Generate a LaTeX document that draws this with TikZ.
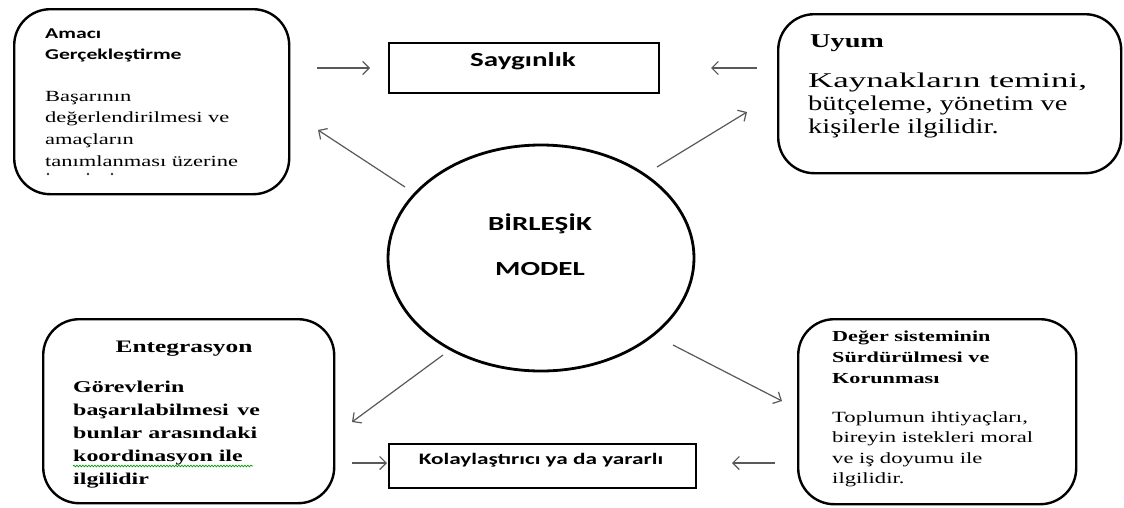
\documentclass[tikz,border=0pt]{standalone}
\usepackage{fontspec}
\setmainfont{Liberation Serif}
\newfontfamily\hsans[FakeStretch=1.45]{Carlito}
\newfontfamily\tserif[FakeStretch=1.45]{Liberation Serif}
\newfontfamily\tserifwide[FakeStretch=1.66]{Liberation Serif}
\newfontfamily\tserifnarrow[FakeStretch=1.36]{Liberation Serif}
\usetikzlibrary{arrows.meta,shapes.geometric,decorations.pathmorphing}
% stacked lines whose baseline is the first line's baseline
\newcommand\txtlines[2][l]{\begin{tabular}[t]{@{}#1@{}}#2\end{tabular}}
\begin{document}
\begin{tikzpicture}[x=1pt,y=-1pt,
  rbox/.style={draw=black,line width=2.4pt,rounded corners=36pt,inner sep=0pt,anchor=north west},
  sbox/.style={draw=black,line width=2.4pt,inner sep=0pt,anchor=north west},
  arr/.style={draw=black!65,line width=1.2pt,-{Straight Barb[length=6.5pt,width=13pt]}},
  txt/.style={inner sep=0pt,anchor=base west,text=black},
  ctxt/.style={inner sep=0pt,anchor=base,text=black}]
\useasboundingbox (0,0) rectangle (1124,507);
\fill[white] (0,0) rectangle (1124,507);

% frames
\node[rbox,minimum width=275pt,minimum height=185pt] (goal) at (13,8) {};
\node[sbox,minimum width=270pt,minimum height=50pt] (resp) at (388,42) {};
\node[rbox,minimum width=343pt,minimum height=159pt] (adapt) at (777,13) {};
\node[draw=black,line width=2.8pt,ellipse,minimum width=306pt,minimum height=226pt,inner sep=0pt] (model) at (541,258) {};
\node[rbox,minimum width=291pt,minimum height=184pt] (integ) at (42,318) {};
\node[sbox,minimum width=307pt,minimum height=44pt] (facil) at (388,443) {};
\node[rbox,minimum width=278pt,minimum height=185pt] (value) at (797,318) {};

% texts
\node[txt,font=\hsans\bfseries\fontsize{15}{21}\selectfont] (goalh) at (45,38)
  {\txtlines{Amacı\\Gerçekleştirme}};
\node[txt,font=\tserif\fontsize{15.5}{21.7}\selectfont] (goalb) at (45,101)
  {\txtlines{Başarının\\değerlendirilmesi ve\\amaçların\\tanımlanması üzerine}};
\fill[black!80] (48,174) circle (1.3) (88,174) circle (1.3) (112,174) circle (1.3);

\node[ctxt,font=\hsans\bfseries\fontsize{20}{24}\selectfont] (resph) at (523,66) {Saygınlık};

\node[txt,font=\tserif\bfseries\fontsize{19.5}{24}\selectfont] (adapth) at (810,47) {Uyum};
\node[txt,font=\tserifnarrow\fontsize{21}{23}\selectfont] (adaptb) at (808,87)
  {\txtlines{{\tserifwide Kaynakların temini,}\\bütçeleme, yönetim ve\\kişilerle ilgilidir.}};

\node[ctxt,font=\hsans\bfseries\fontsize{20}{45}\selectfont] (modelt) at (540,230)
  {\txtlines[c]{BİRLEŞİK\\MODEL}};

\node[ctxt,font=\tserif\bfseries\fontsize{17.5}{22}\selectfont] (integh) at (184,352) {Entegrasyon};
\node[txt,font=\tserif\bfseries\fontsize{16.5}{23}\selectfont] (integb) at (73,392)
  {\txtlines{Görevlerin\\başarılabilmesi\, ve\\bunlar arasındaki\\koordinasyon ile\\ilgilidir}};
\draw[green!60!black,line width=0.7pt,decorate,decoration={snake,amplitude=0.8pt,segment length=3pt}]
  (integb.west |- 0,466) -- (253,466);

\node[ctxt,font=\hsans\bfseries\fontsize{16}{20}\selectfont] (facilt) at (541,464) {Kolaylaştırıcı ya da yararlı};

\node[txt,font=\tserif\bfseries\fontsize{15.3}{21}\selectfont] (valueh) at (832,341)
  {\txtlines{Değer sisteminin\\Sürdürülmesi ve\\Korunması}};
\node[txt,font=\tserif\fontsize{15.6}{20.5}\selectfont] (valueb) at (832,422)
  {\txtlines{Toplumun ihtiyaçları,\\bireyin istekleri moral\\ve iş doyumu ile\\ilgilidir.}};

% connector end points
\coordinate (g1) at (317,68);   \coordinate (g2) at (370,68);
\coordinate (u1) at (757,68);   \coordinate (u2) at (711,68);
\coordinate (e1) at (352,463);  \coordinate (e2) at (387,463);
\coordinate (v1) at (775,463);  \coordinate (v2) at (732,463);
\coordinate (m1) at (405,187);  \coordinate (t1) at (318,130);
\coordinate (m2) at (657,167);  \coordinate (t2) at (747,112);
\coordinate (m3) at (443,355);  \coordinate (t3) at (352,422);
\coordinate (m4) at (673,345);  \coordinate (t4) at (782,401);

% connectors
\draw[arr] (g1) -- (g2);
\draw[arr] (u1) -- (u2);
\draw[arr] (e1) -- (e2);
\draw[arr] (v1) -- (v2);
\draw[arr] (m1) -- (t1);
\draw[arr] (m2) -- (t2);
\draw[arr] (m3) -- (t3);
\draw[arr] (m4) -- (t4);
\end{tikzpicture}
\end{document}
